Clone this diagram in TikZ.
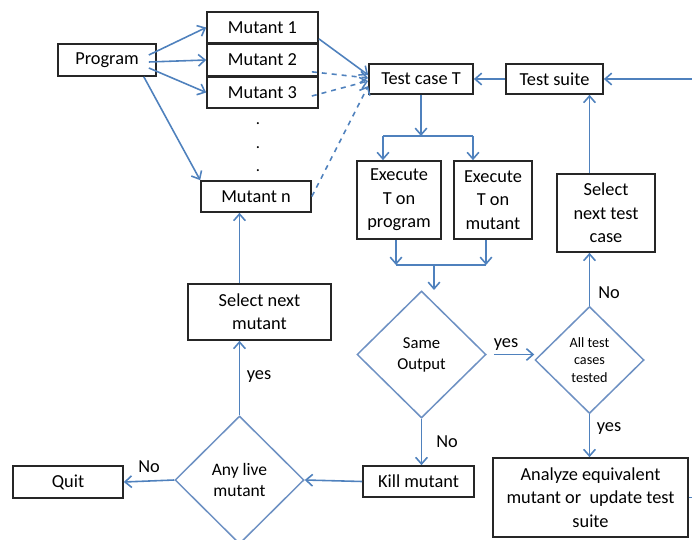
\documentclass[tikz,border=0pt]{standalone}
\usepackage{fontspec}
\setmainfont{Carlito}
\usetikzlibrary{shapes.geometric,arrows.meta}
\definecolor{flowblue}{RGB}{79,129,189}
\definecolor{diablue}{RGB}{110,145,195}

\begin{document}
\begin{tikzpicture}[x=0.6pt,y=-0.6pt,
  box/.style={draw=black!85,line width=1pt,fill=white,inner sep=0pt,align=center,
    font=\fontsize{11}{14}\selectfont},
  decision/.style={diamond,draw=diablue,line width=0.9pt,inner sep=0pt,align=center},
  line/.style={draw=flowblue,line width=0.95pt},
  link/.style={line,-{Straight Barb[length=4pt,width=7pt]}},
  lbl/.style={font=\fontsize{11}{13}\selectfont}]
  \useasboundingbox (0,0) rectangle (692,540);

  \path
  (107,60)      node[box,minimum width=58.8pt,minimum height=19.2pt](prog)   {Program}
  (262.5,27.5)  node[box,minimum width=66.6pt,minimum height=18.6pt](m1)     {Mutant 1}
  (262.5,60)    node[box,minimum width=66.6pt,minimum height=18.6pt](m2)     {Mutant 2}
  (262.5,92.5)  node[box,minimum width=66.6pt,minimum height=18.6pt](m3)     {Mutant 3}
  (256,196.5)   node[box,minimum width=66pt,minimum height=18.6pt](mn)       {Mutant n}
  (258,124)     node[inner sep=0pt](dot1) {.}
  (258,148)     node[inner sep=0pt](dot2) {.}
  (258,171)     node[inner sep=0pt](dot3) {.}

  (421,79)      node[box,minimum width=62.4pt,minimum height=18pt](tc)       {Test case T}
  (554.5,79)    node[box,minimum width=58.2pt,minimum height=18pt](ts)       {Test suite}
  (399,200)     node[box,minimum width=50.4pt,minimum height=46.8pt](ep)     {Execute\\T on\\program}
  (493,200)     node[box,minimum width=46.8pt,minimum height=46.8pt](em)     {Execute\\T on\\mutant}
  (606,213)     node[box,minimum width=58.8pt,minimum height=46.8pt](seltest) {Select\\next test\\case}

  (421.5,354.5) node[decision,minimum width=77.4pt,minimum height=76.2pt,
                     font=\fontsize{10}{12.6}\selectfont](same) {Same\\Output}
  (589.5,360)   node[decision,minimum width=65.4pt,minimum height=64.2pt,
                     font=\fontsize{8.5}{10.5}\selectfont](all)  {All test\\cases\\tested}
  (590.5,497.5) node[box,minimum width=117pt,minimum height=47.4pt](an)
                     {Analyze equivalent\\mutant or\ \ update test\\suite}
  (418.5,481.5) node[box,minimum width=66.6pt,minimum height=18.6pt](kill)   {Kill mutant}
  (239.5,480)   node[decision,minimum width=77.4pt,minimum height=76.8pt,
                     font=\fontsize{10.5}{12.6}\selectfont](any)  {Any live\\mutant}
  (68,482)      node[box,minimum width=66pt,minimum height=19.2pt](quit)     {Quit}
  (259.5,312)   node[box,minimum width=85.8pt,minimum height=33.6pt](selmut) {Select next\\mutant}

  (506,345)     node[lbl](yes1) {yes}
  (609,293)     node[lbl](no1)  {No}
  (609,429)     node[lbl](yes2) {yes}
  (447,442)     node[lbl](no2)  {No}
  (259,377)     node[lbl](yes3) {yes}
  (149,467)     node[lbl](no3)  {No}
  ;

  \coordinate (fork)  at (421,136);
  \coordinate (forkl) at (383,136);
  \coordinate (forkr) at (473,136);
  \coordinate (joinl) at (396,265);
  \coordinate (joinr) at (486,265);
  \coordinate (join)  at (434,265);
  \coordinate (sametop) at (434,290);

  % program to mutants
  \draw[link] ([xshift=-4.8pt,yshift=3pt]prog.east)  -- (m1.west);
  \draw[link] ([xshift=-4.8pt,yshift=-1.2pt]prog.east) -- (m2.west);
  \draw[link] ([xshift=-4.8pt,yshift=-4.8pt]prog.east) -- (m3.west);
  \draw[link] ([xshift=-7.8pt]prog.south east) -- (mn.north west);

  % mutants to test case
  \draw[link] ([yshift=3pt]m1.south east) -- ([yshift=2.4pt]tc.west);
  \draw[link,dashed] ([xshift=-4.2pt,yshift=2.7pt]m2.south east) -- ([yshift=0.6pt]tc.west);
  \draw[link,dashed] ([xshift=-4.2pt,yshift=-2.1pt]m3.east) -- ([yshift=-1.2pt]tc.west);
  \draw[link,dashed] (mn.east) -- ([yshift=-4.2pt]tc.west);

  % test case to executions
  \draw[link] (tc.south) -- (fork);
  \draw[line] (forkl) -- (forkr);
  \draw[link] (forkl) -- (forkl |- ep.north);
  \draw[link] (forkr) -- (forkr |- em.north);
  \draw[link] (joinl |- ep.south) -- (joinl);
  \draw[link] (joinr |- em.south) -- (joinr);
  \draw[line] (joinl) -- (joinr);
  \draw[link] (join) -- (sametop);

  % decisions
  \draw[link] ([xshift=4.2pt]same.east) -- (same.east -| all.west);
  \draw[link] (all.north) -- (all.north |- seltest.south);
  \draw[link] (all.north |- seltest.north) -- (all.north |- ts.south);
  \draw[link] (all.south) -- (all.south |- an.north);
  \draw[link] (ts.west) -- (tc.east);
  \draw[link] (an.east) -- ++(20,0) |- (ts.east);
  \draw[link] (same.south) -- (same.south |- kill.north);
  \draw[link] (kill.west) -- (any.east);
  \draw[link] (any.west) -- (quit.east);
  \draw[link] (any.north) -- (any.north |- selmut.south);
  \draw[link] (any.north |- selmut.north) -- (any.north |- mn.south);
\end{tikzpicture}
\end{document}
